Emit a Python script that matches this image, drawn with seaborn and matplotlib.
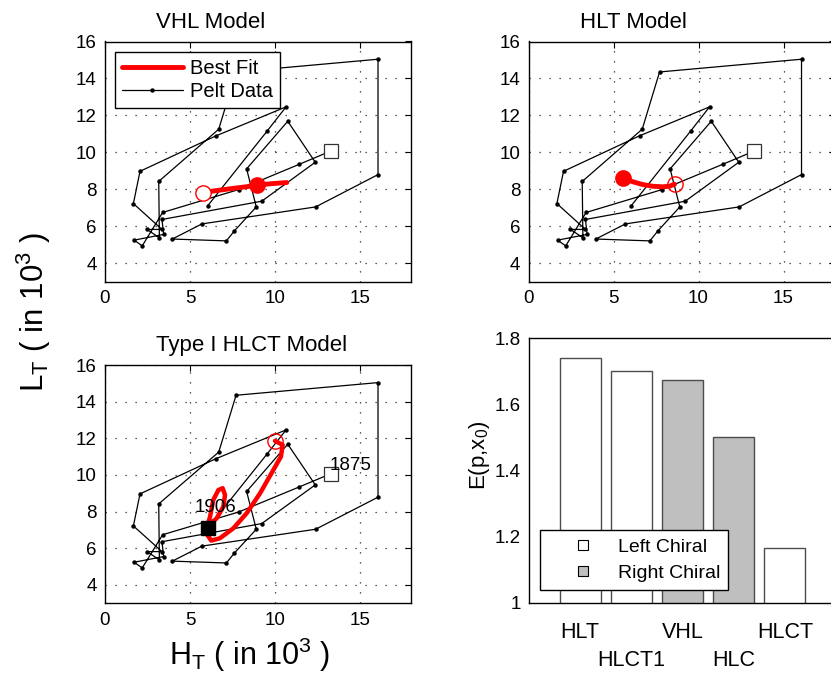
import numpy as np
import pandas as pd
import matplotlib
matplotlib.use('Agg')
import matplotlib.pyplot as plt
import matplotlib.transforms as mtransforms
from matplotlib.lines import Line2D
from matplotlib.ticker import FormatStrFormatter
import seaborn as sns

# Hare / lynx pelt data, 1875 -> 1906 (in thousands)
pelt_hare = [13.29, 11.43, 7.86, 3.39, 2.19, 1.71, 3.45, 3.35, 9.22, 12.37,
             10.75, 8.33, 8.90, 7.61, 7.14, 3.96, 5.70, 12.39, 16.06, 16.06,
             7.71, 6.69, 3.16, 3.20, 2.47, 3.35, 1.67, 2.06, 6.53, 10.65,
             9.53, 6.04]
pelt_lynx = [10.07, 9.35, 7.98, 6.74, 4.93, 5.24, 5.55, 6.36, 7.35, 9.46,
             11.68, 9.10, 7.04, 5.74, 5.20, 5.30, 6.12, 7.04, 8.79, 15.04,
             14.35, 11.25, 8.42, 5.37, 5.82, 5.82, 7.22, 8.97, 10.89, 12.46,
             11.14, 7.10]
pelt_years = ['1875', '1906']

# Best fit trajectories
vhl_h = [5.75, 6.60, 7.50, 8.30, 8.92, 9.80, 10.69]
vhl_l = [7.82, 7.93, 8.04, 8.13, 8.22, 8.30, 8.36]
vhl_dot = [8.92, 8.22]

hlt_h = [5.55, 6.14, 6.73, 7.31, 7.90, 8.29, 8.59]
hlt_l = [8.63, 8.40, 8.25, 8.16, 8.13, 8.16, 8.27]

hlct_h = [10.00, 10.45, 10.35, 9.90, 9.12, 8.33, 7.55, 6.76, 6.25, 5.97,
          6.05, 6.18, 6.37, 6.67, 6.92, 7.06, 6.96, 6.57, 6.25, 6.04]
hlct_l = [11.86, 11.64, 11.00, 10.27, 9.00, 7.91, 7.09, 6.55, 6.42, 6.80,
          7.30, 7.73, 8.64, 9.18, 9.28, 8.91, 8.27, 7.64, 7.35, 7.13]

# Bar chart
bar_models = ['HLT', 'HLCT1', 'VHL', 'HLC', 'HLCT']
bar_values = [1.74, 1.70, 1.675, 1.50, 1.165]
bar_chirality = ['Left Chiral', 'Left Chiral', 'Right Chiral', 'Right Chiral', 'Left Chiral']

sns.set_style('white')
plt.rcParams['font.family'] = ['Liberation Sans', 'DejaVu Sans']
plt.rcParams['mathtext.fontset'] = 'custom'
plt.rcParams['mathtext.rm'] = 'Liberation Sans'
plt.rcParams['mathtext.it'] = 'Liberation Sans:italic'
plt.rcParams['text.color'] = 'k'
plt.rcParams['xtick.color'] = 'k'
plt.rcParams['ytick.color'] = 'k'
plt.rcParams['axes.labelcolor'] = 'k'

W, H = 831, 683
fig = plt.figure(figsize=(W / 100, H / 100), dpi=100)


def px_axes(x0, x1, y0, y1):
    return fig.add_axes([x0 / W, 1 - y1 / H, (x1 - x0) / W, (y1 - y0) / H])


ax_vhl = px_axes(105, 411, 41.5, 281.5)
ax_hlt = px_axes(528.5, 834.5, 41.5, 281.5)
ax_hlct = px_axes(105, 411, 365, 603.3)
ax_bar = px_axes(529, 836, 338.3, 602.7)


def phase_panel(ax, title):
    ax.set_xlim(0, 18)
    ax.set_ylim(3, 16)
    ax.set_xticks([0, 5, 10, 15])
    ax.set_yticks(range(4, 17, 2))
    ax.grid(True, color='0.15', linestyle=(0, (1, 7)), linewidth=0.9)
    ax.tick_params(direction='in', top=True, right=True, length=4,
                   labelsize=13.5, pad=6, colors='k')
    for s in ax.spines.values():
        s.set_color('k')
        s.set_linewidth(1.0)
    sns.lineplot(x=pelt_hare, y=pelt_lynx, sort=False, estimator=None,
                 color='k', linewidth=0.9, marker='o', markersize=3.2,
                 markeredgewidth=0, ax=ax, zorder=3)
    ax.plot(pelt_hare[0], pelt_lynx[0], marker='s', ms=9.5, mfc='white',
            mec='0.2', mew=0.9, zorder=4)
    ax.set_xlabel('')
    ax.set_ylabel('')
    tr = mtransforms.blended_transform_factory(ax.transData, ax.transAxes)
    ax.text(3, 1 + 14 / ax.bbox.height, title, transform=tr, fontsize=16,
            ha='left', va='baseline')


phase_panel(ax_vhl, 'VHL Model')
phase_panel(ax_hlt, 'HLT Model')
phase_panel(ax_hlct, 'Type I HLCT Model')

# VHL fit
sns.lineplot(x=vhl_h, y=vhl_l, sort=False, estimator=None, color='red',
             linewidth=3.5, ax=ax_vhl, zorder=5)
ax_vhl.plot(vhl_h[0], vhl_l[0], 'o', ms=11, mfc='white', mec='red', mew=1, zorder=6)
ax_vhl.plot(vhl_dot[0], vhl_dot[1], 'o', ms=11, color='red', zorder=6)
handles = [Line2D([], [], color='red', lw=3.5),
           Line2D([], [], color='k', lw=0.9, marker='o', ms=3.2, mew=0)]
leg = ax_vhl.legend(handles, ['Best Fit', 'Pelt Data'], loc='upper left',
                    bbox_to_anchor=(0.033, 0.958), borderaxespad=0, fontsize=14.5,
                    handlelength=3.0, handletextpad=0.35, borderpad=0.35,
                    labelspacing=0.22, fancybox=False, framealpha=1,
                    edgecolor='k')
leg.get_frame().set_linewidth(1.0)

# HLT fit
sns.lineplot(x=hlt_h, y=hlt_l, sort=False, estimator=None, color='red',
             linewidth=3.5, ax=ax_hlt, zorder=5)
ax_hlt.plot(hlt_h[0], hlt_l[0], 'o', ms=11, color='red', zorder=6)
ax_hlt.plot(hlt_h[-1], hlt_l[-1], 'o', ms=11, mfc='none', mec='red', mew=1, zorder=6)

# HLCT fit
sns.lineplot(x=hlct_h, y=hlct_l, sort=False, estimator=None, color='red',
             linewidth=3.2, ax=ax_hlct, zorder=5)
for ln in ax_hlct.get_lines()[-1:]:
    ln.set_solid_joinstyle('round')
    ln.set_solid_capstyle('round')
ax_hlct.plot(hlct_h[0], hlct_l[0], 'o', ms=11, mfc='none', mec='red', mew=1, zorder=6)
ax_hlct.plot(pelt_hare[-1], pelt_lynx[-1], marker='s', ms=9.5, color='k', zorder=7)
ax_hlct.text(pelt_hare[0] - 0.05, pelt_lynx[0] + 0.18, pelt_years[0],
             fontsize=13.5, ha='left', va='baseline', zorder=8)
ax_hlct.text(5.25, 8.0, pelt_years[1], fontsize=13.5, ha='left',
             va='baseline', zorder=8)

# Bar chart
df = pd.DataFrame({'model': bar_models, 'E': bar_values, 'chirality': bar_chirality})
sns.barplot(data=df, x='model', y='E', hue='chirality',
            palette={'Left Chiral': 'white', 'Right Chiral': '#bfbfbf'},
            dodge=False, width=0.8, edgecolor='0.3', linewidth=1.0,
            ax=ax_bar, legend=False)
ax_bar.set_xlim(-1, 5)
ax_bar.set_ylim(1, 1.8)
ax_bar.set_yticks([1, 1.2, 1.4, 1.6, 1.8])
ax_bar.yaxis.set_major_formatter(FormatStrFormatter('%g'))
ax_bar.set_xticks(range(len(bar_models)))
ax_bar.set_xticklabels([m if i % 2 == 0 else '\n' + m for i, m in enumerate(bar_models)])
for lab in ax_bar.get_xticklabels():
    lab.set_linespacing(1.45)
ax_bar.tick_params(axis='x', length=0, labelsize=15.5, pad=14, colors='k')
ax_bar.tick_params(axis='y', direction='in', length=4, labelsize=13.5, pad=6, colors='k')
ax_bar.set_xlabel('')
ax_bar.set_ylabel('')
for s in ax_bar.spines.values():
    s.set_color('k')
    s.set_linewidth(1.0)
bar_handles = [Line2D([], [], ls='none', marker='s', ms=7, mfc='white', mec='k', mew=0.8),
               Line2D([], [], ls='none', marker='s', ms=7, mfc='#bfbfbf', mec='k', mew=0.8)]
leg2 = ax_bar.legend(bar_handles, ['Left Chiral', 'Right Chiral'], loc='lower left',
                     bbox_to_anchor=(0.036, 0.048), borderaxespad=0, fontsize=14,
                     handlelength=3.6, handletextpad=0.0, borderpad=0.4,
                     labelspacing=0.45, fancybox=False, framealpha=1,
                     edgecolor='k')
leg2.get_frame().set_linewidth(1.0)

fig.text(34 / W, 1 - 312 / H, 'L$_\\mathrm{T}$ ( in 10$^3$ )', rotation=90,
         fontsize=22.5, ha='center', va='center')
fig.text(250 / W, 1 - 655 / H, 'H$_\\mathrm{T}$ ( in 10$^3$ )',
         fontsize=22, ha='center', va='center')
fig.text(479 / W, 1 - 455 / H, 'E(p,x$_0$)', rotation=90,
         fontsize=16, ha='center', va='center')

fig.savefig('out.png', dpi=100)
